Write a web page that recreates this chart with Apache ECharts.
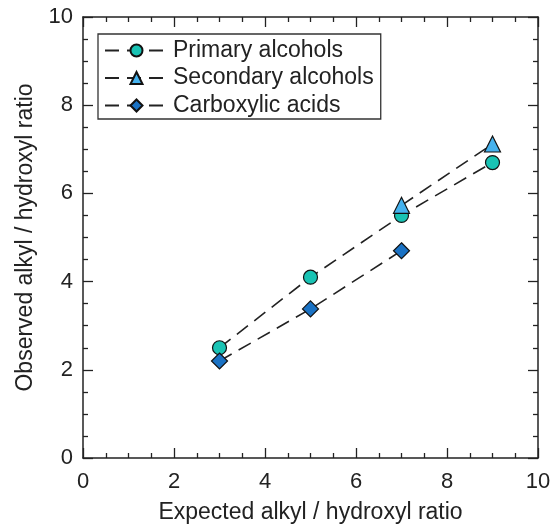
<!DOCTYPE html>
<html>
<head>
<meta charset="utf-8">
<script src="https://cdn.jsdelivr.net/npm/echarts@6/dist/echarts.min.js"></script>
<style>html,body{margin:0;padding:0;background:#fff}#c{width:556px;height:530px}</style>
</head>
<body>
<div id="c"></div>
<script>
var xTitle = 'Expected alkyl / hydroxyl ratio';
var yTitle = 'Observed alkyl / hydroxyl ratio';
var seriesNames = ['Primary alcohols', 'Secondary alcohols', 'Carboxylic acids'];
var primaryX = [3, 5, 7, 9];
var primaryY = [2.5, 4.1, 5.5, 6.7];
var secondaryX = [7, 9];
var secondaryY = [5.73, 7.12];
var carboxylicX = [3, 5, 7];
var carboxylicY = [2.2, 3.38, 4.7];
var axisMin = 0, axisMax = 10, axisStep = 2;

function pairs(xs, ys) { return xs.map(function (x, i) { return [x, ys[i]]; }); }

var FONT = 'Liberation Sans';
var chart = echarts.init(document.getElementById('c'), null, {renderer: 'canvas'});

function mkAxis(pos, showLabel, isY) {
  var a = {
    type: 'value', position: pos, min: axisMin, max: axisMax, interval: axisStep,
    axisLine: {show: true, onZero: false, lineStyle: {color: '#222', width: 1.5}},
    axisTick: {show: true, inside: true, length: 10, lineStyle: {color: '#222', width: 1.3}},
    minorTick: {show: true, splitNumber: 4, length: 5, lineStyle: {color: '#222', width: 1.3}},
    splitLine: {show: false},
    axisLabel: {show: showLabel, color: '#222', fontFamily: FONT, fontSize: 22, margin: isY ? 10 : 13}
  };
  if (showLabel) {
    a.name = isY ? yTitle : xTitle;
    a.nameLocation = 'middle';
    a.nameGap = isY ? 41 : 43;
    a.nameTextStyle = {color: '#222', fontFamily: FONT, fontSize: 23};
  }
  return a;
}

function mkSeries(name, data, symbol, color, size) {
  return {
    name: name, type: 'line', data: data, symbol: symbol, symbolSize: size,
    lineStyle: {color: '#222', width: 1.6, type: [14, 8]},
    itemStyle: {color: color, borderColor: '#111', borderWidth: 1.2},
    z: 3
  };
}

chart.setOption({
  animation: false,
  backgroundColor: '#fff',
  grid: {left: 83, right: 18, top: 17, bottom: 72, containLabel: false},
  xAxis: [mkAxis('bottom', true, false), mkAxis('top', false, false)],
  yAxis: [mkAxis('left', true, true), mkAxis('right', false, true)],
  legend: {
    orient: 'vertical', left: 98, top: 34,
    padding: [5, 7, 2, 6], itemGap: 4.5,
    itemWidth: 63, itemHeight: 15,
    borderColor: '#333', borderWidth: 1.3, backgroundColor: '#fff',
    textStyle: {color: '#222', fontFamily: FONT, fontSize: 23, lineHeight: 23},
    data: seriesNames
  },
  series: [
    mkSeries(seriesNames[0], pairs(primaryX, primaryY), 'circle', '#19C3B4', 14),
    mkSeries(seriesNames[1], pairs(secondaryX, secondaryY), 'triangle', '#45B2EE', 16),
    mkSeries(seriesNames[2], pairs(carboxylicX, carboxylicY), 'diamond', '#1A72C4', 16)
  ]
});
</script>
</body>
</html>
